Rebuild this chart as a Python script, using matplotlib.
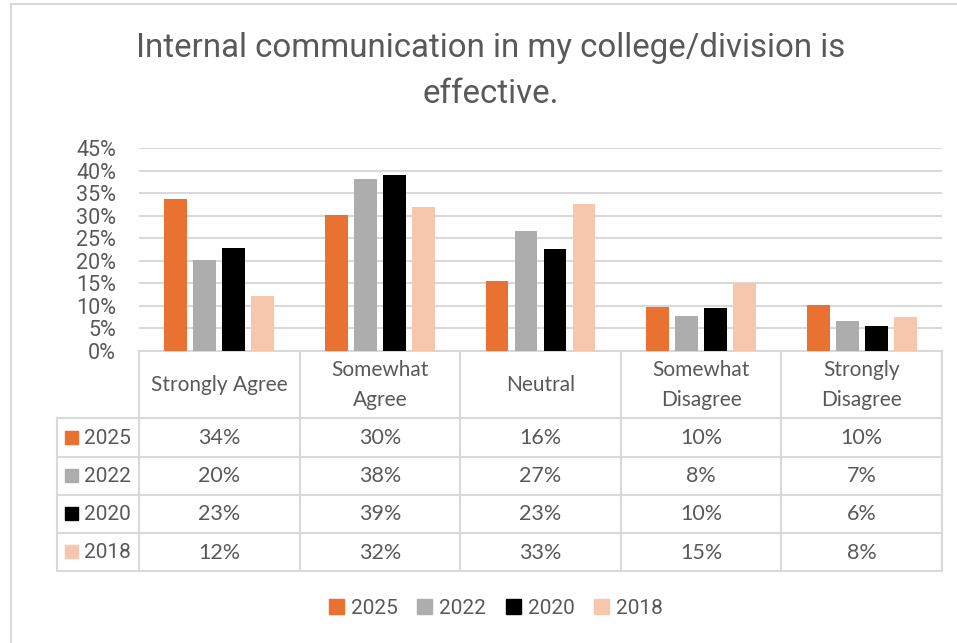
import matplotlib.pyplot as plt
from matplotlib.patches import Patch, Rectangle
import numpy as np

# survey responses (share of respondents)
categories = ['Strongly Agree', 'Somewhat\nAgree', 'Neutral', 'Somewhat\nDisagree', 'Strongly\nDisagree']
years = ['2025', '2022', '2020', '2018']
v2025 = [33.6, 30.1, 15.6, 9.7, 10.2]
v2022 = [20.2, 38.1, 26.6, 7.8, 6.6]
v2020 = [22.8, 39.0, 22.6, 9.6, 5.6]
v2018 = [12.2, 32.0, 32.6, 15.1, 7.6]
series = [v2025, v2022, v2020, v2018]
colors = ['#E97132', '#ADADAD', '#000000', '#F6C6AD']

TXT = '#595959'
GRID = '#D9D9D9'
W, H = 957, 643

fig = plt.figure(figsize=(W / 100, H / 100), dpi=100)

# plot area (pixel box: x 139..942, y 148..351)
x0, x1, ytop, ybot = 139, 942, 148, 351
ax = fig.add_axes([x0 / W, 1 - ybot / H, (x1 - x0) / W, (ybot - ytop) / H])

n = len(categories)
x = np.arange(n)
step, bw = 0.1806, 0.1413
for i, (vals, c) in enumerate(zip(series, colors)):
    ax.bar(x + (i - 1.5) * step, np.array(vals) / 100, bw, color=c, zorder=3)

ax.set_xlim(-0.5, n - 0.5)
ax.set_ylim(0, 0.45)
ticks = np.arange(0, 0.46, 0.05)
ax.set_yticks(ticks)
ax.set_yticklabels([f'{int(round(t * 100))}%' for t in ticks],
                   fontsize=15.5, color=TXT, family='Roboto')
ax.tick_params(axis='y', length=0, pad=16.5)
ax.set_xticks([])
ax.grid(axis='y', color=GRID, linewidth=1.5, zorder=0)
for s in ax.spines.values():
    s.set_visible(False)

# overlay in pixel coordinates for title, table and frame
ov = fig.add_axes([0, 0, 1, 1], zorder=-1)
ov.set_xlim(0, W)
ov.set_ylim(H, 0)
ov.axis('off')

# outer chart frame
ov.plot([11, 11], [4, H], color=GRID, lw=1.5)
ov.plot([11, W], [4, 4], color=GRID, lw=1.5)

ov.text(491, 48, 'Internal communication in my college/division is',
        ha='center', va='center', fontsize=23.8, color=TXT, family='Roboto')
ov.text(491, 94, 'effective.', ha='center', va='center', fontsize=23.8,
        color=TXT, family='Roboto')

# data table under the axis
cols = np.linspace(x0, x1, n + 1)
rows = [351, 418, 456.5, 494.5, 532.5, 571]
left = 56.5
lkw = dict(color=GRID, lw=1.5, zorder=1)
ov.plot([x0, x1], [rows[0], rows[0]], **lkw)
for r in rows[1:]:
    ov.plot([left, x1], [r, r], **lkw)
for cx in cols:
    ov.plot([cx, cx], [rows[0], rows[-1]], **lkw)
ov.plot([left, left], [rows[1], rows[-1]], **lkw)

for j, cat in enumerate(categories):
    cx = (cols[j] + cols[j + 1]) / 2
    ov.text(cx, (rows[0] + rows[1]) / 2 + 0.5, cat, ha='center', va='center',
            fontsize=15, color=TXT, family='Lato', linespacing=1.65)

for i, (yr, vals, c) in enumerate(zip(years, series, colors)):
    cy = (rows[i + 1] + rows[i + 2]) / 2
    ov.add_patch(Rectangle((65, cy - 6.5), 13, 13, color=c, zorder=2))
    ov.text(84, cy + 1, yr, ha='left', va='center', fontsize=15,
            color=TXT, family='Roboto')
    for j, v in enumerate(vals):
        cx = (cols[j] + cols[j + 1]) / 2
        ov.text(cx, cy + 1, f'{v:.0f}%', ha='center', va='center',
                fontsize=15.5, color=TXT, family='Lato')

handles = [Patch(color=c, label=y) for y, c in zip(years, colors)]
fig.legend(handles=handles, loc='center', bbox_to_anchor=(496 / W, 1 - 608 / H),
           ncol=4, frameon=False, handlelength=0.7, handleheight=0.7,
           handletextpad=0.35, columnspacing=0.95,
           prop={'family': 'Roboto', 'size': 15}, labelcolor=TXT)

fig.savefig('out.png', dpi=100, facecolor='white')
